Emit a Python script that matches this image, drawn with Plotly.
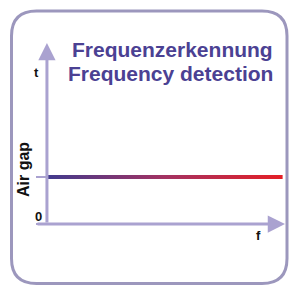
import plotly.graph_objects as go

# ---- data ----
freq = [0.0, 0.99]          # frequency span of the air-gap line (relative)
air_gap = [0.26, 0.26]      # constant air gap (relative to t axis)
y_ticks = [0.0, 0.26]
title_de = "Frequenzerkennung"
title_en = "Frequency detection"
y_label = "Air gap"
t_label = "t"
f_label = "f"
zero_label = "0"

# ---- layout geometry (pixels) ----
W, H = 289, 285
ML, MR, MT, MB = 36, 4, 43, 61
PW, PH = W - ML - MR, H - MT - MB
X0 = -0.046

AXIS_COL = "#aaa2d0"
BORDER_COL = "#9c97bd"
TITLE_COL = "#4b4193"
FONT = "Liberation Sans, Arial, sans-serif"


def px(x):
    return (x - ML) / PW


def py(y):
    return (H - MB - y) / PH


fig = go.Figure()

half = 0.011
fig.add_trace(go.Scatter(
    x=[freq[0], freq[1], freq[1], freq[0]],
    y=[air_gap[0] + half, air_gap[1] + half, air_gap[1] - half, air_gap[0] - half],
    mode="lines", line=dict(width=0), fill="toself",
    fillgradient=dict(type="horizontal",
                      colorscale=[[0, "#413b8e"], [0.5, "#a33262"], [1, "#e41f26"]]),
    hoverinfo="skip", showlegend=False,
))

# rounded border (pixel-sized path anchored at paper origin)
L, R, T, B, r = 11.5, 287.0, 11.0, 283.5, 25


def P(x, y):
    return f"{x - ML:.1f},{(H - MB) - y:.1f}"


path = (f"M{P(L + r, T)} L{P(R - r, T)} Q{P(R, T)} {P(R, T + r)} "
        f"L{P(R, B - r)} Q{P(R, B)} {P(R - r, B)} L{P(L + r, B)} "
        f"Q{P(L, B)} {P(L, B - r)} L{P(L, T + r)} Q{P(L, T)} {P(L + r, T)} Z")
fig.add_shape(type="path", path=path, xref="paper", yref="paper",
              xsizemode="pixel", ysizemode="pixel", xanchor=0, yanchor=0,
              line=dict(color=BORDER_COL, width=3), fillcolor="rgba(0,0,0,0)",
              layer="below")

# axis arrows
fig.add_annotation(x=0, y=1, ax=0, ay=0, xref="x", yref="y", axref="x", ayref="y",
                   text="", showarrow=True, arrowhead=2, arrowsize=1.15,
                   arrowwidth=3, arrowcolor=AXIS_COL, standoff=0)
fig.add_annotation(x=1, y=0, ax=X0, ay=0, xref="x", yref="y", axref="x", ayref="y",
                   text="", showarrow=True, arrowhead=2, arrowsize=1.15,
                   arrowwidth=3, arrowcolor=AXIS_COL, standoff=0)


def txt(s, x, y, size, color="#111111", angle=0, xanchor="center"):
    fig.add_annotation(text=f"<b>{s}</b>", x=px(x), y=py(y), xref="paper", yref="paper",
                       showarrow=False, textangle=angle, xanchor=xanchor, yanchor="middle",
                       font=dict(family=FONT, size=size, color=color))


txt(title_de, 172.5, 49, 21, TITLE_COL)
txt(title_en, 170.5, 73, 21, TITLE_COL)
txt(t_label, 36, 72, 13)
txt(y_label, 23, 170, 16, angle=-90)
txt(zero_label, 38, 216, 13)
txt(f_label, 258, 235, 13)

fig.update_layout(
    width=W, height=H, margin=dict(l=ML, r=MR, t=MT, b=MB),
    paper_bgcolor="white", plot_bgcolor="white", showlegend=False,
    xaxis=dict(range=[X0, 1], visible=False, fixedrange=True),
    yaxis=dict(range=[0, 1], anchor="free", position=(-X0) / (1 - X0),
               showgrid=False, zeroline=False, showline=False,
               tickvals=y_ticks, ticks="outside", ticklen=11, tickwidth=1.5,
               tickcolor=AXIS_COL, showticklabels=False, fixedrange=True),
)

fig.write_html("out.html", config={"displayModeBar": False},
               post_script="document.body.style.margin='0';")
